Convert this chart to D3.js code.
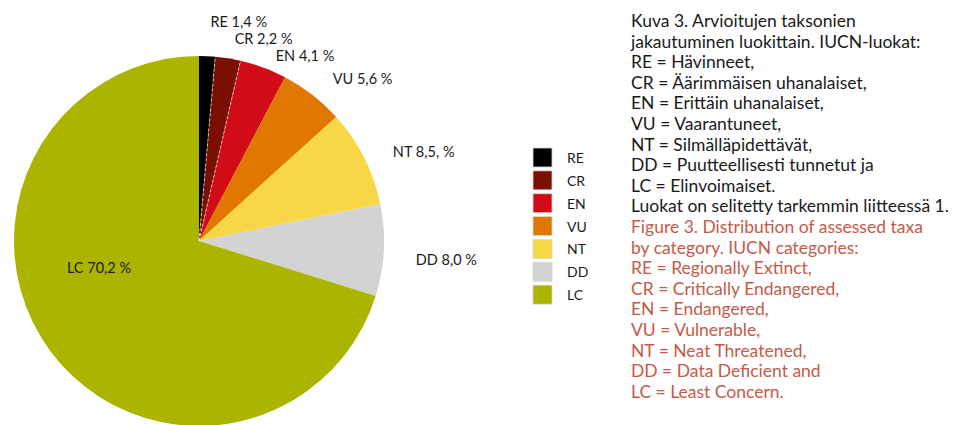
<!DOCTYPE html>
<html>
  <head>
    <script type="text/javascript" src="https://cdn.jsdelivr.net/npm/d3@7/dist/d3.min.js"></script>
    <style>
      body {
        margin: 0;
        background-color: #fff;
      }
      .pieLabel {
        font: 14.5px Lato, sans-serif;
        fill: #1a1a1a;
      }
      .legend text {
        font: 14px Lato, sans-serif;
        fill: #1a1a1a;
      }
      .caption {
        font: 17.5px Lato, sans-serif;
      }
    </style>
  </head>
  <body>
    <svg id="chart"></svg>

    <script type="text/javascript">
      // categories and shares (%), clockwise from 12 o'clock
      var categories = ['RE', 'CR', 'EN', 'VU', 'NT', 'DD', 'LC'];
      var shares = [1.4, 2.2, 4.1, 5.6, 8.5, 8.0, 70.2];
      var labelTexts = ['RE 1,4 %', 'CR 2,2 %', 'EN 4,1 %', 'VU 5,6 %', 'NT 8,5, %', 'DD 8,0 %', 'LC 70,2 %'];
      var colours = ['#000000', '#7a0f02', '#d20c16', '#e07700', '#f8d746', '#d3d3d3', '#abb500'];

      var captionFi = [
        'Kuva 3. Arvioitujen taksonien',
        'jakautuminen luokittain. IUCN-luokat:',
        'RE = Hävinneet,',
        'CR = Äärimmäisen uhanalaiset,',
        'EN = Erittäin uhanalaiset,',
        'VU = Vaarantuneet,',
        'NT = Silmälläpidettävät,',
        'DD = Puutteellisesti tunnetut ja',
        'LC = Elinvoimaiset.',
        'Luokat on selitetty tarkemmin liitteessä 1.'
      ];
      var captionEn = [
        'Figure 3. Distribution of assessed taxa',
        'by category. IUCN categories:',
        'RE = Regionally Extinct,',
        'CR = Critically Endangered,',
        'EN = Endangered,',
        'VU = Vulnerable,',
        'NT = Neat Threatened,',
        'DD = Data Deficient and',
        'LC = Least Concern.'
      ];

      var width = 958,
        height = 425;
      var svg = d3.select('#chart').attr('width', width).attr('height', height);

      var data = categories.map(function (c, i) {
        return { cat: c, value: shares[i], label: labelTexts[i] };
      });

      var colour = d3.scaleOrdinal().domain(categories).range(colours);

      // pie
      var cx = 199,
        cy = 241,
        radius = 185;
      var pie = d3.pie().sort(null).value(function (d) { return d.value; });
      var arcs = pie(data);
      var arc = d3.arc().innerRadius(0).outerRadius(radius);

      var g = svg.append('g').attr('transform', 'translate(' + cx + ',' + cy + ')');
      g.selectAll('path')
        .data(arcs)
        .enter()
        .append('path')
        .attr('d', arc)
        .attr('fill', function (d) { return colour(d.data.cat); });

      // thin white dashed separators between the small slices
      g.selectAll('line.sep')
        .data(arcs.slice(1, 3))
        .enter()
        .append('line')
        .attr('class', 'sep')
        .attr('x1', 0)
        .attr('y1', 0)
        .attr('x2', function (d) { return radius * Math.sin(d.startAngle); })
        .attr('y2', function (d) { return -radius * Math.cos(d.startAngle); })
        .attr('stroke', '#fff')
        .attr('stroke-width', 0.7)
        .attr('stroke-dasharray', '3,2');

      // outside labels for the small slices, pushed apart vertically
      var labelArc = d3.arc().innerRadius(215).outerRadius(215);
      var outer = arcs
        .filter(function (d) { return d.data.cat !== 'LC'; })
        .map(function (d) {
          var c = labelArc.centroid(d);
          return { d: d, x: c[0] + 2, y: c[1] + 13 };
        });
      var minGap = 17;
      for (var it = 0; it < 50; it++) {
        for (var i = 1; i < outer.length; i++) {
          var overlap = minGap - (outer[i].y - outer[i - 1].y);
          if (overlap > 0) {
            outer[i].y += overlap / 2;
            outer[i - 1].y -= overlap / 2;
          }
        }
      }
      g.selectAll('text.pieLabel')
        .data(outer)
        .enter()
        .append('text')
        .attr('class', 'pieLabel')
        .attr('x', function (p) { return p.x; })
        .attr('y', function (p) { return p.y; })
        .text(function (p) { return p.d.data.label; });

      // LC label inside the big slice
      var lc = arcs[arcs.length - 1];
      g.append('text')
        .attr('class', 'pieLabel')
        .attr('text-anchor', 'middle')
        .attr('x', -100)
        .attr('y', 32)
        .text(lc.data.label);

      // legend
      var legend = svg.append('g').attr('class', 'legend').attr('transform', 'translate(533,148)');
      var row = d3.scaleBand().domain(categories).range([0, 160]).paddingInner(0);
      var item = legend
        .selectAll('g')
        .data(categories)
        .enter()
        .append('g')
        .attr('transform', function (d) { return 'translate(0,' + row(d) + ')'; });
      item
        .append('rect')
        .attr('width', 19)
        .attr('height', 19)
        .attr('fill', function (d) { return colour(d); })
        .attr('stroke', '#d8d8d8')
        .attr('stroke-width', 0.8);
      item
        .append('text')
        .attr('x', 34)
        .attr('y', 15)
        .text(function (d) { return d; });

      // caption
      var lineH = 20.6;
      var cap = svg.append('g').attr('class', 'caption').attr('transform', 'translate(631,27)');
      cap
        .selectAll('text.fi')
        .data(captionFi)
        .enter()
        .append('text')
        .attr('class', 'fi')
        .attr('y', function (d, i) { return i * lineH; })
        .attr('fill', '#1a1a1a')
        .text(function (d) { return d; });
      cap
        .selectAll('text.en')
        .data(captionEn)
        .enter()
        .append('text')
        .attr('class', 'en')
        .attr('y', function (d, i) { return (i + captionFi.length) * lineH; })
        .attr('fill', '#c55a48')
        .text(function (d) { return d; });
    </script>
  </body>
</html>
